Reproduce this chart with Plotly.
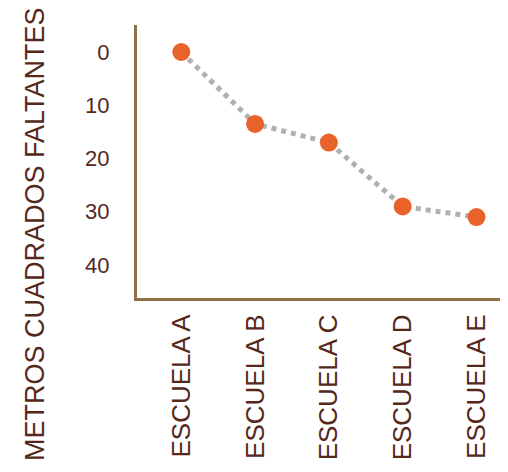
import plotly.graph_objects as go

categories = ["ESCUELA A", "ESCUELA B", "ESCUELA C", "ESCUELA D", "ESCUELA E"]
values = [0, 13.5, 17, 29, 31]
y_ticks = [0, 10, 20, 30, 40]
y_title = "METROS CUADRADOS FALTANTES"

text_color = "#55281b"
axis_color = "#8c7245"
font_family = "Liberation Sans, Arial, sans-serif"

fig = go.Figure()
fig.add_trace(go.Scatter(
    x=categories, y=values, mode="lines+markers",
    line=dict(color="#b0b0b0", width=5, dash="dot"),
    marker=dict(color="#e8622a", size=18),
    cliponaxis=False, showlegend=False,
))

fig.update_layout(
    width=500, height=464,
    margin=dict(l=129, r=2, t=17, b=174),
    paper_bgcolor="white", plot_bgcolor="white",
    font=dict(family=font_family, color=text_color),
    xaxis=dict(
        type="category", range=[-0.6, 4.4], automargin=False,
        showgrid=False, zeroline=False,
        showline=True, linecolor=axis_color, linewidth=3,
        ticks="", tickangle=-90, tickfont=dict(size=26, color=text_color),
        ticklabelstandoff=3,
    ),
    yaxis=dict(
        range=[46.2, -5.07], tickvals=y_ticks, automargin=False,
        showgrid=False, zeroline=False,
        showline=True, linecolor=axis_color, linewidth=3,
        ticks="", tickfont=dict(size=22, color=text_color),
        ticklabelstandoff=20,
    ),
    annotations=[dict(
        text=y_title, textangle=-90, showarrow=False,
        xref="paper", yref="paper",
        x=(27 - 129) / 369, y=(290 - 226) / 273,
        xanchor="center", yanchor="middle",
        font=dict(size=27, color=text_color, family=font_family),
    )],
)

fig.write_html("out.html")
